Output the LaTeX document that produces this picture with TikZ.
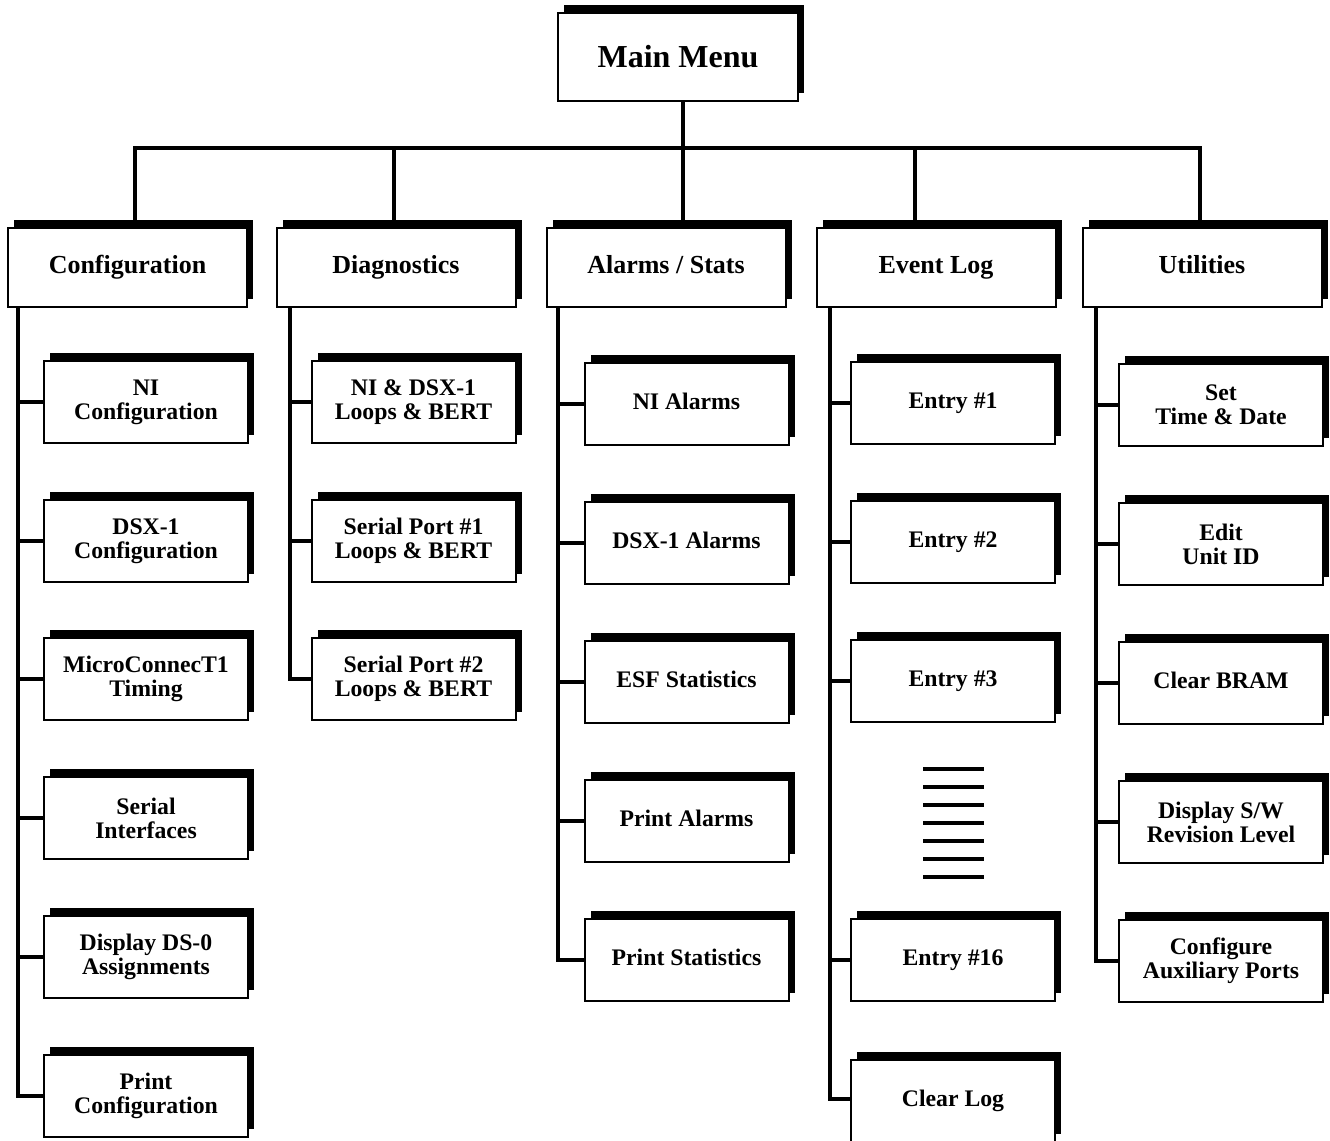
\documentclass[tikz,border=0pt]{standalone}
\usepackage{fontspec}
\setmainfont{Liberation Serif}
\usetikzlibrary{shadows}
\begin{document}
\begin{tikzpicture}[x=0.75pt,y=-0.75pt,
 box/.style={draw, line width=1.5pt, fill=white, rectangle, align=center, inner sep=0pt,
   general shadow={fill=black, shadow xshift=4.5pt, shadow yshift=6pt}},
 mainbox/.style={box, minimum width=180pt, minimum height=66pt, font=\fontsize{24}{28}\selectfont\bfseries},
 hdr/.style={box, minimum width=179.25pt, minimum height=59.25pt, text height=13.5pt, text depth=4.5pt, font=\fontsize{19.5}{22}\selectfont\bfseries},
 sub/.style={box, minimum width=153pt, minimum height=61.5pt, font=\fontsize{17.8}{18}\selectfont\bfseries},
 subone/.style={sub, text height=12.5pt, text depth=4pt},
 wire/.style={line width=2.6pt},
 dashline/.style={line width=3pt}]
\useasboundingbox (0,0) rectangle (1330,1140);
\clip (0,0) rectangle (1330,1140);

% main
\node[mainbox] (main) at (678,57) {Main Menu};

% headers
\node[hdr] (hconf) at (127.5,267.5) {Configuration};
\node[hdr] (hdiag) at (396,267.5) {Diagnostics};
\node[hdr] (halarm) at (666,267.5) {Alarms / Stats};
\node[hdr] (hevent) at (936,267.5) {Event Log};
\node[hdr] (hutil) at (1202,267.5) {Utilities};

% configuration column
\node[sub] (c1) at (146,402) {NI\\Configuration};
\node[sub] (c2) at (146,541) {DSX-1\\Configuration};
\node[sub] (c3) at (146,679) {MicroConnecT1\\Timing};
\node[sub] (c4) at (146,818) {Serial\\Interfaces};
\node[sub] (c5) at (146,957) {Display DS-0\\Assignments};
\node[sub] (c6) at (146,1096) {Print\\Configuration};

% diagnostics column
\node[sub] (d1) at (413.5,402) {NI \& DSX-1\\Loops \& BERT};
\node[sub] (d2) at (413.5,541) {Serial Port \#1\\Loops \& BERT};
\node[sub] (d3) at (413.5,679) {Serial Port \#2\\Loops \& BERT};

% alarms column
\node[subone] (a1) at (686.5,404) {NI Alarms};
\node[subone] (a2) at (686.5,543) {DSX-1 Alarms};
\node[subone] (a3) at (686.5,682) {ESF Statistics};
\node[subone] (a4) at (686.5,821) {Print Alarms};
\node[subone] (a5) at (686.5,960) {Print Statistics};

% event log column
\node[subone] (e1) at (953,403) {Entry \#1};
\node[subone] (e2) at (953,542) {Entry \#2};
\node[subone] (e3) at (953,681) {Entry \#3};
\node[subone] (e4) at (953,960) {Entry \#16};
\node[subone] (e5) at (953,1101) {Clear Log};

% utilities column
\node[sub] (u1) at (1221,405) {Set\\Time \& Date};
\node[sub] (u2) at (1221,544) {Edit\\Unit ID};
\node[subone] (u3) at (1221,683) {Clear BRAM};
\node[sub] (u4) at (1221,822) {Display S/W\\Revision Level};
\node[sub] (u5) at (1221,961) {Configure\\Auxiliary Ports};

% bus
\coordinate (b1) at (135,148);
\coordinate (b2) at (394,148);
\coordinate (b3) at (683,148);
\coordinate (b4) at (915,148);
\coordinate (b5) at (1200,148);
\draw[wire] (b1 |- hconf.north) -- (b1) -- (b5) -- (b5 |- hutil.north);
\draw[wire] (main.south -| b3) -- (b3);
\draw[wire] (b2) -- (b2 |- hdiag.north);
\draw[wire] (b3) -- (b3 |- halarm.north);
\draw[wire] (b4) -- (b4 |- hevent.north);

% trunks
\coordinate (tc) at (18,0);
\coordinate (td) at (290,0);
\coordinate (ta) at (558,0);
\coordinate (te) at (830,0);
\coordinate (tu) at (1096,0);

\draw[wire] (tc |- hconf.south) -- (tc |- c6.west) -- (c6.west);
\foreach \n in {c1,c2,c3,c4,c5} \draw[wire] (tc |- \n.west) -- (\n.west);
\draw[wire] (td |- hdiag.south) -- (td |- d3.west) -- (d3.west);
\foreach \n in {d1,d2} \draw[wire] (td |- \n.west) -- (\n.west);
\draw[wire] (ta |- halarm.south) -- (ta |- a5.west) -- (a5.west);
\foreach \n in {a1,a2,a3,a4} \draw[wire] (ta |- \n.west) -- (\n.west);
\draw[wire] (te |- hevent.south) -- ([yshift=1.5pt]te |- e5.west) -- ([yshift=1.5pt]e5.west);
\foreach \n in {e1,e2,e3,e4} \draw[wire] (te |- \n.west) -- (\n.west);
\draw[wire] (tu |- hutil.south) -- (tu |- u5.west) -- (u5.west);
\foreach \n in {u1,u2,u3,u4} \draw[wire] (tu |- \n.west) -- (\n.west);

% ellipsis dashes
\foreach \k in {0,...,6} \draw[dashline] (923,769+18*\k) -- (984,769+18*\k);
\end{tikzpicture}
\end{document}
